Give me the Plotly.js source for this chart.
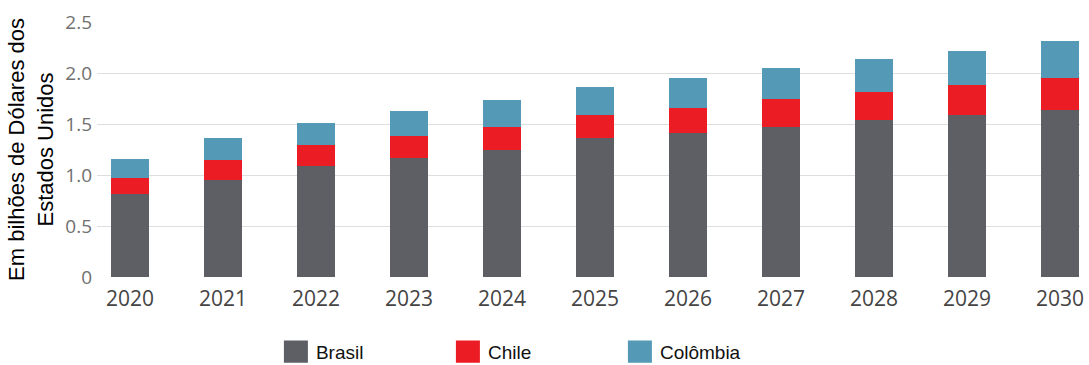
<!DOCTYPE html>
<html>
<head>
<meta charset="utf-8">
<script src="https://cdn.plot.ly/plotly-3.0.1.min.js"></script>
<style>html,body{margin:0;padding:0;background:#fff;}#chart{width:1089px;height:365px;}</style>
</head>
<body>
<div id="chart"></div>
<script>
const years = ["2020","2021","2022","2023","2024","2025","2026","2027","2028","2029","2030"];
const brasil = [0.81, 0.95, 1.09, 1.165, 1.245, 1.36, 1.41, 1.475, 1.535, 1.585, 1.64];
const chile = [0.165, 0.195, 0.20, 0.22, 0.23, 0.23, 0.25, 0.27, 0.28, 0.30, 0.315];
const colombia = [0.18, 0.22, 0.22, 0.24, 0.26, 0.275, 0.295, 0.305, 0.32, 0.33, 0.355];
const yTickVals = [0, 0.5, 1.0, 1.5, 2.0, 2.5];
const yTickText = ["0", "0.5", "1.0", "1.5", "2.0", "2.5"];

const traces = [
  {type:"bar", name:"Brasil", x:years, y:brasil, marker:{color:"#5e5f64"}},
  {type:"bar", name:"Chile", x:years, y:chile, marker:{color:"#ec1c24"}},
  {type:"bar", name:"Colômbia", x:years, y:colombia, marker:{color:"#5499b6"}}
];

const layout = {
  width:1089, height:365,
  margin:{l:97, r:9, t:22, b:88, autoexpand:false},
  barmode:"stack",
  bargap:0.59,
  paper_bgcolor:"#fff", plot_bgcolor:"#fff",
  showlegend:true,
  legend:{orientation:"h", x:0.182, xanchor:"left", xref:"paper",
    yref:"container", y:0.036, yanchor:"middle",
    font:{family:"Liberation Sans, Arial, sans-serif", size:19, color:"#111"},
    entrywidth:127, entrywidthmode:"pixels", traceorder:"normal"},
  xaxis:{type:"category", range:[-0.355, 10.215], showgrid:false, zeroline:false, showline:false,
    ticks:"", ticklabelstandoff:7, tickfont:{family:"Open Sans, sans-serif", size:21, color:"#444"}},
  yaxis:{range:[0, 2.5], tickvals:yTickVals, ticktext:yTickText, showgrid:true, gridcolor:"#dedede", gridwidth:1,
    zeroline:false, showline:false, ticks:"", ticklabelstandoff:4,
    tickfont:{family:"Open Sans, sans-serif", size:19, color:"#707070"},
    title:{text:"Em bilhões de Dólares dos<br>Estados Unidos", standoff:5,
      font:{family:"Liberation Sans, Arial, sans-serif", size:22, color:"#000"}}}
};

Plotly.newPlot("chart", traces, layout, {displayModeBar:false, staticPlot:true}).then(function(gd){
  gd.querySelectorAll(".legend .legendpoints path").forEach(function(p){
    const t = p.getAttribute("transform") || "";
    p.setAttribute("transform", t + " scale(2,1.85)");
  });
});
</script>
</body>
</html>
